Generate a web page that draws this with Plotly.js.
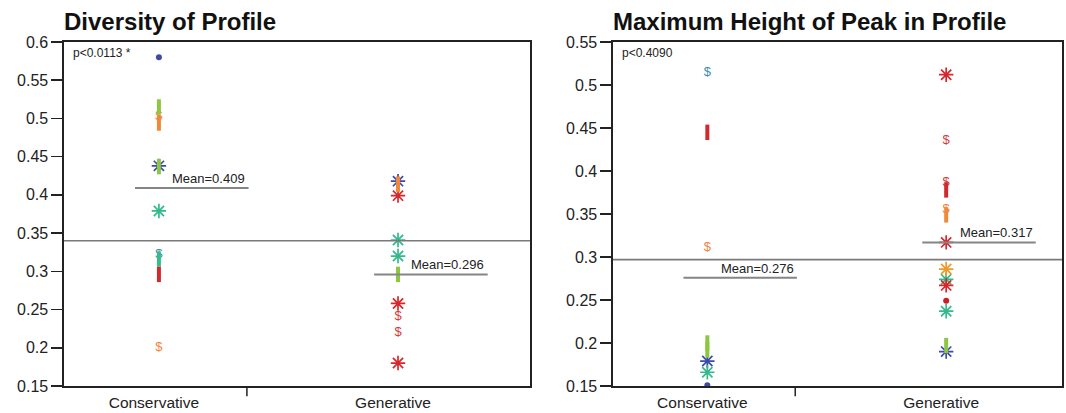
<!DOCTYPE html>
<html>
<head>
<meta charset="utf-8">
<script src="https://cdn.plot.ly/plotly-3.0.1.min.js"></script>
<style>html,body{margin:0;padding:0;background:#fff;}#chart{width:1066px;height:413px;}</style>
</head>
<body>
<div id="chart"></div>
<script>
// ---------- DATA ----------
const categories = ['Conservative', 'Generative'];
const yTickVals1 = [0.15, 0.2, 0.25, 0.3, 0.35, 0.4, 0.45, 0.5, 0.55, 0.6];
const yTickVals2 = [0.15, 0.2, 0.25, 0.3, 0.35, 0.4, 0.45, 0.5, 0.55];

// Panel 1: Diversity of Profile
const divTitle = 'Diversity of Profile';
const divPText = 'p<0.0113 *';
const divConsValues = [0.580, 0.515, 0.502, 0.494, 0.438, 0.437, 0.379, 0.322, 0.316, 0.296, 0.200];
const divConsGroups = ['blueDot', 'greenBar', 'orangeDollar', 'orangeBar', 'blueStar', 'greenBar', 'tealStar', 'tealDollar', 'tealBar', 'redBar', 'orangeDollar'];
const divGenValues = [0.418, 0.414, 0.399, 0.341, 0.320, 0.296, 0.258, 0.241, 0.220, 0.180];
const divGenGroups = ['blueStar', 'orangeBar', 'redStar', 'tealStar', 'tealStar', 'greenBar', 'redStar', 'redDollar', 'redDollar', 'redStar'];
const divMeans = [0.409, 0.296];
const divGrandMean = 0.340;

// Panel 2: Maximum Height of Peak in Profile
const hgtTitle = 'Maximum Height of Peak in Profile';
const hgtPText = 'p<0.4090';
const hgtConsValues = [0.514, 0.445, 0.311, 0.200, 0.192, 0.179, 0.166, 0.151];
const hgtConsGroups = ['tealDollar', 'redBar', 'orangeDollar', 'greenBar', 'greenBar', 'blueStar', 'tealStar', 'blueDot'];
const hgtGenValues = [0.512, 0.435, 0.386, 0.378, 0.355, 0.349, 0.317, 0.286, 0.274, 0.267, 0.249, 0.237, 0.197, 0.190];
const hgtGenGroups = ['redStar', 'redDollar', 'redDollar', 'redBar', 'orangeDollar', 'orangeBar', 'redStar', 'orangeStar', 'tealStar', 'redStar', 'redDot', 'tealStar', 'greenBar', 'blueStar'];
const hgtMeans = [0.276, 0.317];
const hgtGrandMean = 0.297;

// ---------- STYLES ----------
const styles = {
  blueStar:   {kind: 'marker', symbol: 'asterisk-open', size: 12, lw: 1.7, color: '#3c4aa8'},
  tealStar:   {kind: 'marker', symbol: 'asterisk-open', size: 12, lw: 1.7, color: '#33b98a'},
  redStar:    {kind: 'marker', symbol: 'asterisk-open', size: 12, lw: 1.7, color: '#d8262c'},
  orangeStar: {kind: 'marker', symbol: 'asterisk-open', size: 12, lw: 1.7, color: '#ee9a2a'},
  blueDot:    {kind: 'marker', symbol: 'circle', size: 6, lw: 0, color: '#3f4ba0'},
  redDot:     {kind: 'marker', symbol: 'circle', size: 6, lw: 0, color: '#c8202a'},
  orangeDollar: {kind: 'text', color: '#f0853e'},
  tealDollar:   {kind: 'text', color: '#3a8fae'},
  redDollar:    {kind: 'text', color: '#d63c3c'},
  greenBar:   {kind: 'marker', symbol: 'line-ns-open', size: 11, lw: 4, color: '#8dc641'},
  orangeBar:  {kind: 'marker', symbol: 'line-ns-open', size: 11, lw: 4, color: '#ee8a3a'},
  redBar:     {kind: 'marker', symbol: 'line-ns-open', size: 11, lw: 4, color: '#cf2b2e'},
  tealBar:    {kind: 'marker', symbol: 'line-ns-open', size: 11, lw: 4, color: '#3bb88c'}
};
const drawOrder = ['blueStar', 'tealStar', 'redStar', 'orangeStar', 'blueDot', 'redDot', 'orangeDollar', 'tealDollar', 'redDollar', 'greenBar', 'orangeBar', 'redBar', 'tealBar'];

const FONT = 'Liberation Sans, Arial, sans-serif';
const traces = [];

function addPanel(consVals, consGroups, genVals, genGroups, xa, ya) {
  drawOrder.forEach(g => {
    const xs = [], ys = [];
    consVals.forEach((v, i) => { if (consGroups[i] === g) { xs.push(categories[0]); ys.push(v); } });
    genVals.forEach((v, i) => { if (genGroups[i] === g) { xs.push(categories[1]); ys.push(v); } });
    if (!xs.length) return;
    const s = styles[g];
    if (s.kind === 'text') {
      traces.push({type: 'scatter', mode: 'text', x: xs, y: ys, xaxis: xa, yaxis: ya,
        text: xs.map(() => '$'), textposition: 'middle center',
        textfont: {family: FONT, size: 13, color: s.color}, hoverinfo: 'skip', showlegend: false});
    } else {
      traces.push({type: 'scatter', mode: 'markers', x: xs, y: ys, xaxis: xa, yaxis: ya,
        marker: {symbol: s.symbol, size: s.size, color: s.color, line: {width: s.lw, color: s.color}},
        hoverinfo: 'skip', showlegend: false});
    }
  });
}
addPanel(divConsValues, divConsGroups, divGenValues, divGenGroups, 'x', 'y');
addPanel(hgtConsValues, hgtConsGroups, hgtGenValues, hgtGenGroups, 'x2', 'y2');

const shapes = [];
const annotations = [];
function panelDecor(xr, yr, means, grand, title, ptext) {
  shapes.push({type: 'line', xref: xr + ' domain', yref: yr, x0: 0, x1: 1, y0: grand, y1: grand,
    line: {color: '#7a7a7a', width: 1.6}});
  means.forEach((m, i) => {
    shapes.push({type: 'line', xref: xr, yref: yr, x0: i - 0.1, x1: i + 0.375, y0: m, y1: m,
      line: {color: '#858585', width: 2}});
    annotations.push({xref: xr, yref: yr, x: i + 0.37, y: m, xanchor: 'right', yanchor: 'bottom', yshift: 0,
      text: 'Mean=' + m.toFixed(3), showarrow: false, font: {family: FONT, size: 13, color: '#222'}});
  });
  // category boundary tick
  shapes.push({type: 'line', xref: xr, yref: yr + ' domain', x0: 0.368, x1: 0.368, y0: 0, y1: -0.03,
    line: {color: '#222', width: 1.5}});
  annotations.push({xref: xr + ' domain', yref: yr + ' domain', x: 0, y: 1, xanchor: 'left', yanchor: 'bottom',
    yshift: 5, xshift: -2, text: '<b>' + title + '</b>', showarrow: false, font: {family: FONT, size: 24, color: '#111'}});
  annotations.push({xref: xr + ' domain', yref: yr + ' domain', x: 0.015, y: 0.995, xanchor: 'left', yanchor: 'top',
    text: ptext, showarrow: false, font: {family: FONT, size: 12, color: '#222'}});
}
panelDecor('x', 'y', divMeans, divGrandMean, divTitle, divPText);
panelDecor('x2', 'y2', hgtMeans, hgtGrandMean, hgtTitle, hgtPText);

const xBase = {type: 'category', categoryorder: 'array', categoryarray: categories, showgrid: false, zeroline: false,
  showline: true, mirror: true, linecolor: '#222', linewidth: 1.6, ticks: '', ticklabelstandoff: 2, ticklabelshift: -5,
  tickfont: {family: FONT, size: 15.5, color: '#222'}, fixedrange: true};
const yBase = {showgrid: false, zeroline: false, showline: true, mirror: true, linecolor: '#222', linewidth: 1.6,
  ticks: 'outside', ticklen: 11, tickwidth: 1.5, tickcolor: '#222',
  tickfont: {family: FONT, size: 16, color: '#222'}, fixedrange: true};

const layout = {
  width: 1066, height: 413,
  margin: {l: 0, r: 0, t: 42, b: 27},
  paper_bgcolor: '#fff', plot_bgcolor: '#fff',
  showlegend: false,
  xaxis: Object.assign({}, xBase, {domain: [64 / 1066, 530 / 1066], range: [-0.397, 1.552], anchor: 'y'}),
  yaxis: Object.assign({}, yBase, {domain: [0, 1], range: [0.15, 0.6], tickvals: yTickVals1, anchor: 'x'}),
  xaxis2: Object.assign({}, xBase, {domain: [613 / 1066, 1062 / 1066], range: [-0.395, 1.485], anchor: 'y2'}),
  yaxis2: Object.assign({}, yBase, {domain: [0, 1], range: [0.15, 0.55], tickvals: yTickVals2, anchor: 'x2'}),
  shapes: shapes,
  annotations: annotations
};

Plotly.newPlot('chart', traces, layout, {staticPlot: true, displayModeBar: false});
</script>
</body>
</html>
